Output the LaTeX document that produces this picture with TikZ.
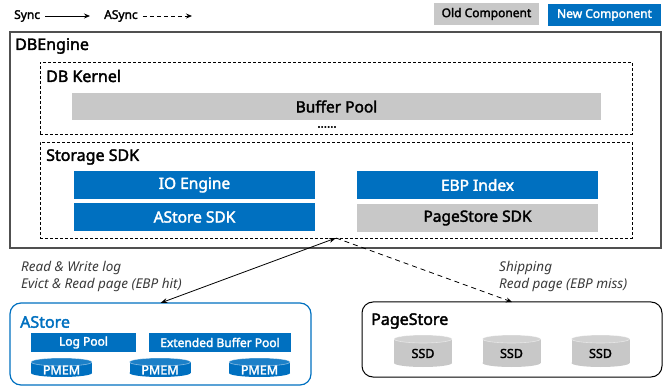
\documentclass[tikz,border=0pt]{standalone}
\usepackage{fontspec}
\setmainfont{Noto Sans}
\newfontfamily\semib{Noto Sans}[FakeBold=2.2]
\newfontfamily\lightit{Noto Sans Italic}
\usetikzlibrary{arrows.meta}
\definecolor{newblue}{HTML}{0070C0}
\definecolor{oldgray}{HTML}{C8C8C8}
\definecolor{oldtop}{HTML}{D2D2D2}
\definecolor{newtop}{HTML}{1C80C8}
\definecolor{edgegray}{HTML}{505050}
\definecolor{notegray}{HTML}{3A3A3A}
\newcommand\cylnode[8]{%
  \pgfmathsetmacro\cylhalf{#4/2}%
  \fill[#6] (#2-\cylhalf,#3+4) rectangle (#2+\cylhalf,#3+#5-4);
  \fill[#6] (#2,#3+#5-4) ellipse [x radius=\cylhalf, y radius=4];
  \filldraw[fill=#7, draw=white, draw opacity=0.5, line width=0.6pt] (#2,#3+4) ellipse [x radius=\cylhalf, y radius=4];
  \node[cyltext, text=#1col] (#1) at (#2,#3+#5/2+2.5) {#8};
}
\begin{document}
\begin{tikzpicture}[x=1pt,y=-1pt,
  box/.style={anchor=north west, inner sep=0pt, outer sep=0pt},
  comp/.style={box, font=\semib\fontsize{15.5}{17}\selectfont},
  newc/.style={comp, fill=newblue, text=white},
  oldc/.style={comp, fill=oldgray, text=black},
  small/.style={font=\semib\fontsize{12}{14}\selectfont},
  title/.style={anchor=west, inner sep=0pt, font=\semib\fontsize{16}{18}\selectfont},
  legendtxt/.style={anchor=west, inner sep=0pt, font=\semib\fontsize{12}{14}\selectfont},
  note/.style={anchor=west, inner sep=0pt, align=left, text=notegray, font=\lightit\fontsize{13.5}{17}\selectfont},
  container/.style={box, draw, densely dashed, line width=0.7pt},
  cyltext/.style={inner sep=0pt, font=\semib\fontsize{12.5}{14}\selectfont},
  syncarrow/.style={-{Stealth[length=6pt,width=5pt]}, line width=0.8pt},
  asyncarrow/.style={-{Stealth[length=6pt,width=5pt]}, line width=0.8pt, dashed},
]
\useasboundingbox (0,0) rectangle (672,387);

% legend
\node[legendtxt] (sync) at (14,16) {Sync};
\coordinate (syncend) at (90,16);
\draw[syncarrow] ([xshift=5pt]sync.east) -- (syncend);
\node[legendtxt] (async) at (104,16) {ASync};
\coordinate (asyncend) at (192,16);
\draw[asyncarrow, dash pattern=on 4pt off 3pt] ([xshift=5pt]async.east) -- (asyncend);
\node[box, fill=oldgray, minimum width=105pt, minimum height=22pt, small] (oldleg) at (434,3) {Old Component};
\node[box, fill=newblue, text=white, minimum width=113pt, minimum height=22pt, small] (newleg) at (548,4) {New Component};

% DBEngine
\node[box, draw=edgegray, line width=1.4pt, minimum width=651pt, minimum height=216pt] (engine) at (10,32) {};
\node[title] (enginelbl) at ([shift={(5,14)}]engine.north west) {DBEngine};

\node[container, minimum width=592pt, minimum height=72pt] (kernel) at (40,62) {};
\node[title] (kernellbl) at ([shift={(6,14)}]kernel.north west) {DB Kernel};
\node[oldc, minimum width=529pt, minimum height=27pt] (bp) at (72,93) {Buffer Pool};
\node[inner sep=0pt, font=\semib\fontsize{12}{12}\selectfont] (dots) at (327,127) {......};

\node[container, minimum width=592pt, minimum height=96pt] (sdk) at (40,142) {};
\node[title] (sdklbl) at ([shift={(6,15)}]sdk.north west) {Storage SDK};
\node[newc, minimum width=241pt, minimum height=28pt] (io) at (74,171) {IO Engine};
\node[newc, minimum width=241pt, minimum height=28pt] (asdk) at (74,203) {AStore SDK};
\node[newc, minimum width=241pt, minimum height=28pt] (ebpi) at (357,171) {EBP Index};
\node[oldc, minimum width=241pt, minimum height=28pt] (psdk) at (357,204) {PageStore SDK};

% AStore
\node[box, draw=newblue, line width=1.2pt, rounded corners=11pt, minimum width=301pt, minimum height=82pt] (astore) at (10,303) {};
\node[title, text=newblue] (astorelbl) at ([shift={(10,19)}]astore.north west) {AStore};
\node[newc, small, minimum width=105pt, minimum height=19pt] (logpool) at (31,333) {Log Pool};
\node[newc, small, minimum width=142pt, minimum height=19pt] (ebp) at (149,333) {Extended Buffer Pool};
\colorlet{pmem1col}{white}\colorlet{pmem2col}{white}\colorlet{pmem3col}{white}
\cylnode{pmem1}{61.5}{358}{61}{19}{newblue}{newtop}{PMEM}
\cylnode{pmem2}{160}{358}{61}{19}{newblue}{newtop}{PMEM}
\cylnode{pmem3}{259.5}{358}{61}{19}{newblue}{newtop}{PMEM}

% PageStore
\node[box, draw=black, line width=1pt, rounded corners=11pt, minimum width=300pt, minimum height=75pt] (pagestore) at (362,302) {};
\node[title] (pagestorelbl) at ([shift={(9,19)}]pagestore.north west) {PageStore};
\colorlet{ssd1col}{black}\colorlet{ssd2col}{black}\colorlet{ssd3col}{black}
\cylnode{ssd1}{423}{335}{58}{32}{oldgray}{oldtop}{SSD}
\cylnode{ssd2}{511.5}{335}{58}{32}{oldgray}{oldtop}{SSD}
\cylnode{ssd3}{600.5}{335}{58}{32}{oldgray}{oldtop}{SSD}

% connectors
\draw[{Stealth[length=7pt,width=5pt]}-{Stealth[length=7pt,width=5pt]}, line width=0.8pt] (astore.north) -- (sdk.south);
\draw[asyncarrow, dash pattern=on 5pt off 4pt] (sdk.south) -- (pagestore.north);

\node[note] (syncnote) at (21,276) {Read \& Write log\\Evict \& Read page (EBP hit)};
\node[note] (asyncnote) at (499,276) {Shipping\\Read page (EBP miss)};
\end{tikzpicture}
\end{document}
